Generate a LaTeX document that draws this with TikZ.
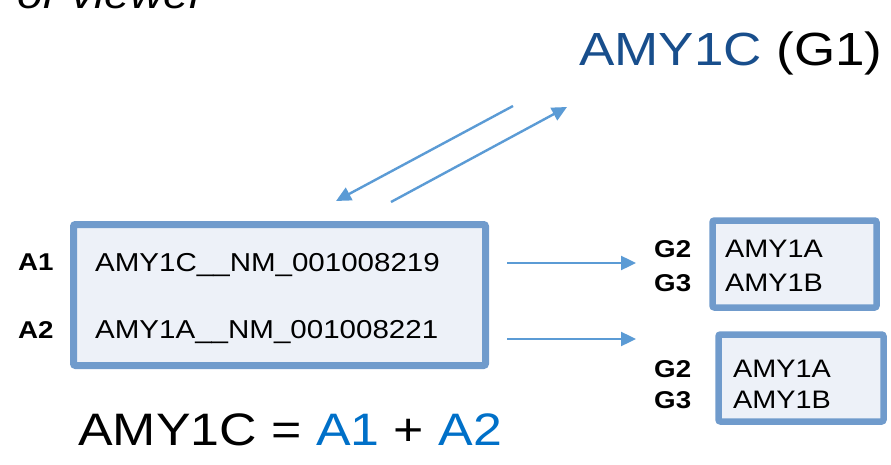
\documentclass[tikz,border=0pt]{standalone}
\usepackage{fontspec}
\setmainfont[FakeStretch=1.14]{Liberation Sans}
\usetikzlibrary{arrows.meta}

\definecolor{boxedge}{RGB}{112,155,204}
\definecolor{boxfill}{RGB}{237,241,248}
\definecolor{arrowblue}{RGB}{91,155,213}
\definecolor{titleblue}{RGB}{24,78,140}
\definecolor{termblue}{RGB}{0,112,200}

\begin{document}
\begin{tikzpicture}[x=1pt,y=-1pt,
  gbox/.style={draw=boxedge, fill=boxfill, line width=7pt, rounded corners=2pt, inner sep=0pt},
  txt/.style={anchor=base west, inner sep=0pt, font=\fontsize{25.9}{31}\selectfont},
  rtxt/.style={anchor=base west, inner sep=0pt, font=\fontsize{25.3}{30}\selectfont},
  tag/.style={anchor=base west, inner sep=0pt, font=\fontsize{24.3}{29}\selectfont\bfseries},
  arr/.style={draw=arrowblue, line width=2.4pt, -{Triangle[length=15pt,width=14pt]}}]

\useasboundingbox (0,0) rectangle (891,465);
\clip (0,0) rectangle (891,465);

% heading, partly above the page edge
\node[anchor=base east, inner sep=0pt, font=\fontsize{40.4}{48}\selectfont\itshape] (heading) at (205,9) {or viewer};

% gene title
\node[anchor=base west, inner sep=0pt, font=\fontsize{46.5}{56}\selectfont] (title) at (579,66)
  {\textcolor{titleblue}{AMY1C} (G1)};

% transcript box
\node[gbox, minimum width=412pt, minimum height=141pt] (main) at (279.5,295) {};
\node[tag] (a1) at (18,270) {A1};
\node[tag] (a2) at (18,338) {A2};
\node[txt] (t1) at (95,271) {AMY1C\_\_NM\_001008219};
\node[txt] (t2) at (95,338) {AMY1A\_\_NM\_001008221};

% target boxes
\node[gbox, line width=6.5pt, minimum width=164pt, minimum height=87pt] (ga) at (794.5,264) {};
\node[tag] (g2a) at (654,257) {G2};
\node[tag] (g3a) at (654,291) {G3};
\node[rtxt] (ra1) at (725,257) {AMY1A};
\node[rtxt] (ra2) at (725,291) {AMY1B};

\node[gbox, line width=6.5pt, minimum width=165pt, minimum height=87pt] (gb) at (801,378) {};
\node[tag] (g2b) at (654,377) {G2};
\node[tag] (g3b) at (654,408) {G3};
\node[rtxt] (rb1) at (733,377) {AMY1A};
\node[rtxt] (rb2) at (733,408) {AMY1B};

% formula
\node[anchor=base west, inner sep=0pt, font=\fontsize{45.5}{54}\selectfont] (sum) at (78,445)
  {AMY1C = \textcolor{termblue}{A1} + \textcolor{termblue}{A2}};

% connectors
\coordinate (h1s) at (507,263);
\coordinate (h1e) at (636,263);
\coordinate (h2s) at (507,339);
\coordinate (h2e) at (636,339);
\coordinate (d1s) at (513,106);
\coordinate (d1e) at (336,201);
\coordinate (d2s) at (391,202);
\coordinate (d2e) at (567,107);

\draw[arr] (h1s) -- (h1e);
\draw[arr] (h2s) -- (h2e);
\draw[arr] (d1s) -- (d1e);
\draw[arr] (d2s) -- (d2e);
\end{tikzpicture}
\end{document}
